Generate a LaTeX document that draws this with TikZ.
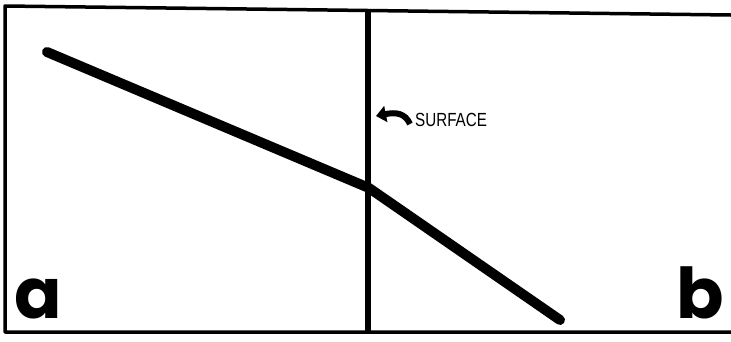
\documentclass[tikz,border=0pt]{standalone}
\usepackage{fontspec}
\newfontfamily\labelfont{Liberation Sans}
\newfontfamily\bigfont{Poppins}
\usetikzlibrary{arrows.meta}
\begin{document}
\begin{tikzpicture}[x=1pt,y=-1pt,
  frame/.style={line width=3.5pt,line cap=round,line join=round},
  rod/.style={line width=10pt,line cap=round,line join=miter},
  bigletter/.style={inner sep=0pt,anchor=base west,font=\bigfont\bfseries\fontsize{70}{70}\selectfont},
  lbl/.style={inner sep=0pt,anchor=west,font=\labelfont\fontsize{19}{19}\selectfont,xscale=0.8}]
\useasboundingbox (0,0) rectangle (731,341);
% frame
\coordinate (tl) at (5,6);
\coordinate (tr) at (731,15);
\coordinate (bl) at (5,332);
\coordinate (br) at (731,332);
\draw[frame] (tr) -- (tl) -- (bl) -- (br);
% surface divider
\coordinate (dtop) at (368,11);
\coordinate (dbot) at (368,332);
\draw[line width=5.5pt] (dtop) -- (dbot);
% rod
\coordinate (r1) at (47,52);
\coordinate (r2) at (369,188);
\coordinate (r3) at (560,320);
\draw[rod] (r1) -- (r2) -- (r3);
% arrow and label
\coordinate (atail) at (410,124);
\coordinate (ahead) at (376,116);
\draw[line width=6pt,-{Triangle[length=10pt,width=16pt]}] (atail) .. controls (405,113) and (396,112) .. (ahead);
\node[lbl] (surf) at (415,120) {SURFACE};
% letters
\node[bigletter] (a) at (14,318) {a};
\node[bigletter] (b) at (676,318) {b};
\end{tikzpicture}
\end{document}
